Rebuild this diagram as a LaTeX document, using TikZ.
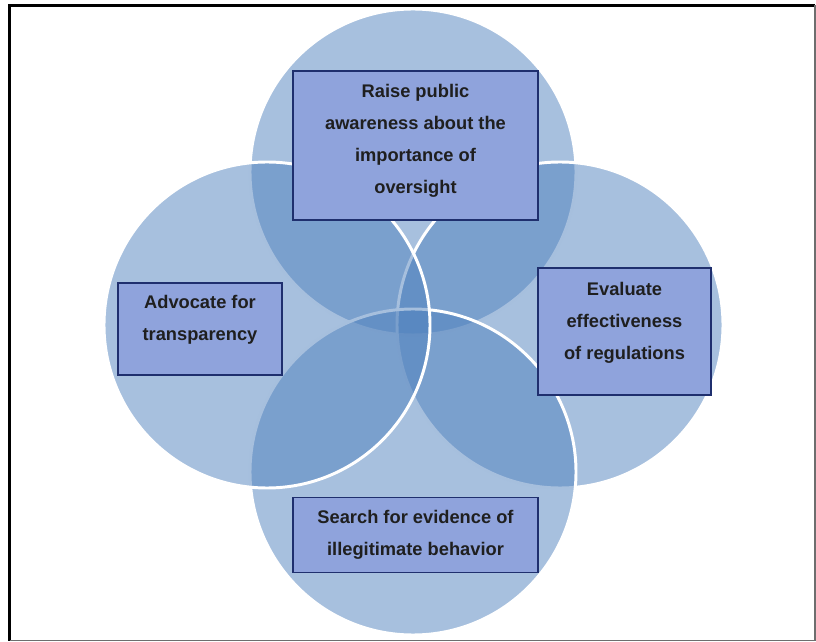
\documentclass[tikz,border=0pt]{standalone}
\usepackage{fontspec}
\setmainfont{Liberation Sans}

\definecolor{ringblue}{HTML}{4F81BD}
\definecolor{boxfill}{HTML}{8FA3DC}
\definecolor{boxline}{HTML}{1F2F6E}
\definecolor{framegray}{HTML}{6E6E6E}

\tikzset{
  ring/.style={fill=ringblue, fill opacity=0.5, draw=white, line width=2.1pt},
  goalbox/.style={draw=boxline, fill=boxfill, line width=1.4pt, inner sep=0pt},
  goaltext/.style={align=center, text=black!88, inner sep=0pt,
    font=\fontsize{13}{22.7}\selectfont\bfseries},
}

\begin{document}
\begin{tikzpicture}[x=0.025cm, y=-0.025cm]
                \useasboundingbox (0,0) rectangle (816,642);
                % four overlapping circles, top one first
                \foreach \cx/\cy in {413/172, 560/325, 413/472, 267/325}
                    \draw [ring] (\cx,\cy) circle [radius=163];
                % the boxes
                \node [goalbox, minimum width=6.125cm, minimum height=3.725cm] (raise) at (415.5,145.5) {};
                \node [goaltext] (raise-txt) at (415.5,141) {Raise public\\awareness about the\\importance of\\oversight};
                \node [goalbox, minimum width=4.075cm, minimum height=2.3cm] (advocate) at (200,329) {};
                \node [goaltext] (advocate-txt) at (200,320) {Advocate for\\transparency};
                \node [goalbox, minimum width=4.3cm, minimum height=3.175cm] (evaluate) at (624.5,331.7) {};
                \node [goaltext] (evaluate-txt) at (624.5,323) {Evaluate\\effectiveness\\of regulations};
                \node [goalbox, minimum width=6.14cm, minimum height=1.875cm] (search) at (415.5,535) {};
                \node [goaltext] (search-txt) at (415.5,534.5) {Search for evidence of\\illegitimate behavior};
                % frame
                \draw [line width=2.1pt] (9.5,640.5) -- (9.5,5.3) -- (815,5.3);
                \draw [framegray, line width=1.1pt] (815,5.3) -- (815,640.5) -- (9.5,640.5);
            \end{tikzpicture}
\end{document}
